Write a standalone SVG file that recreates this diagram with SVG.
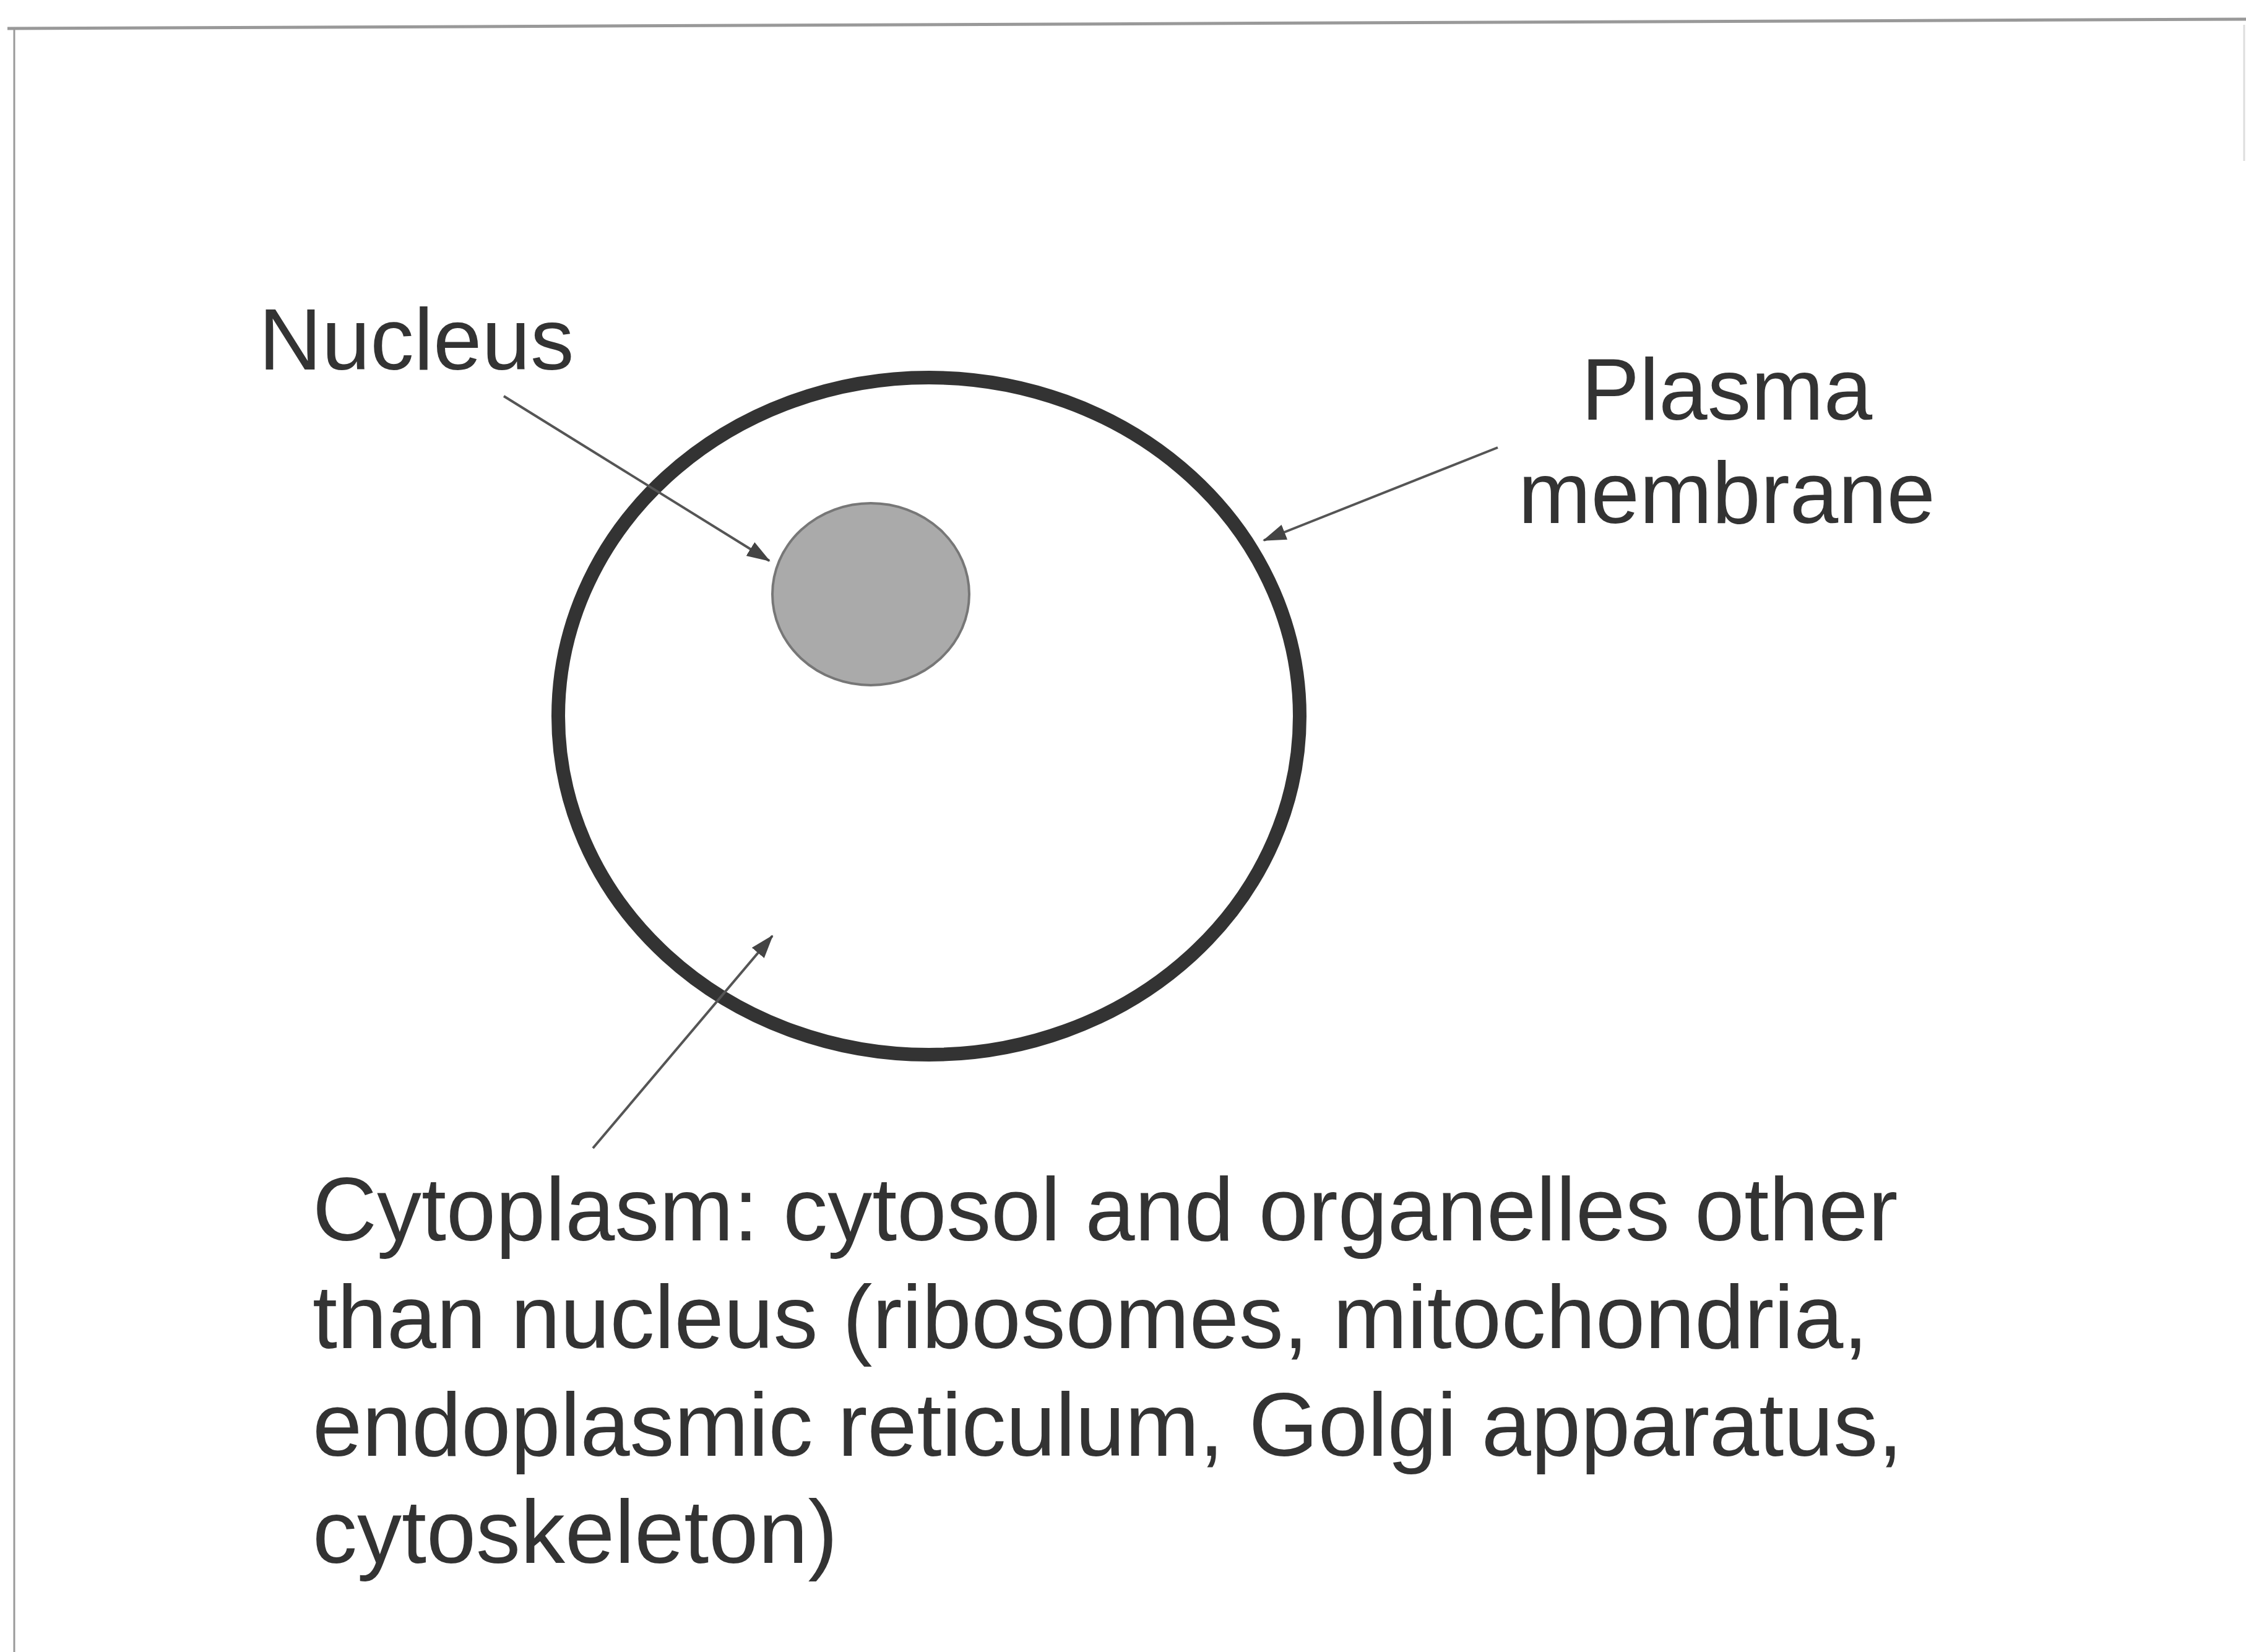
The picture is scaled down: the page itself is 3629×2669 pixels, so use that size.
<svg xmlns="http://www.w3.org/2000/svg" width="3629" height="2669" viewBox="0 0 3629 2669">
<style>
.lbl{font-family:"Liberation Sans",Arial,sans-serif;fill:#333;}
.conn{stroke:#555;stroke-width:4;fill:none;}
</style>
<defs>
<marker id="ah" markerUnits="userSpaceOnUse" markerWidth="40" markerHeight="30" refX="36" refY="13" orient="auto">
<path d="M0,0 L38,13 L0,26 Z" fill="#444"/>
</marker>
</defs>
<rect x="0" y="0" width="3629" height="2669" fill="#fff"/>
<g id="frame">
<line x1="12" y1="46" x2="3629" y2="31" stroke="#999" stroke-width="5"/>
<line x1="23" y1="44" x2="23" y2="2669" stroke="#999" stroke-width="3"/>
<line x1="3626" y1="40" x2="3626" y2="260" stroke="#ddd" stroke-width="3"/>
</g>
<g id="cell">
<ellipse cx="1501" cy="1157" rx="599" ry="547" fill="none" stroke="#333" stroke-width="22"/>
</g>
<g id="nucleus">
<ellipse cx="1407" cy="960" rx="159" ry="147" fill="#aaaaaa" stroke="#777" stroke-width="4"/>
</g>
<g id="connectors">
<line class="conn" x1="814" y1="640" x2="1243" y2="906" marker-end="url(#ah)"/>
<line class="conn" x1="2420" y1="723" x2="2042" y2="873" marker-end="url(#ah)"/>
<line class="conn" x1="958" y1="1855" x2="1248" y2="1512" marker-end="url(#ah)"/>
</g>
<g id="label-nucleus">
<text class="lbl" x="418" y="597" font-size="141">Nucleus</text>
</g>
<g id="label-membrane">
<text class="lbl" x="2790" y="678" font-size="141" text-anchor="middle">Plasma</text>
<text class="lbl" x="2790" y="845" font-size="141" text-anchor="middle">membrane</text>
</g>
<g id="label-cytoplasm">
<text class="lbl" x="505" y="2004" font-size="144">Cytoplasm: cytosol and organelles other</text>
<text class="lbl" x="505" y="2178" font-size="144">than nucleus (ribosomes, mitochondria,</text>
<text class="lbl" x="505" y="2352" font-size="144">endoplasmic reticulum, Golgi apparatus,</text>
<text class="lbl" x="505" y="2525" font-size="144">cytoskeleton)</text>
</g>
</svg>
